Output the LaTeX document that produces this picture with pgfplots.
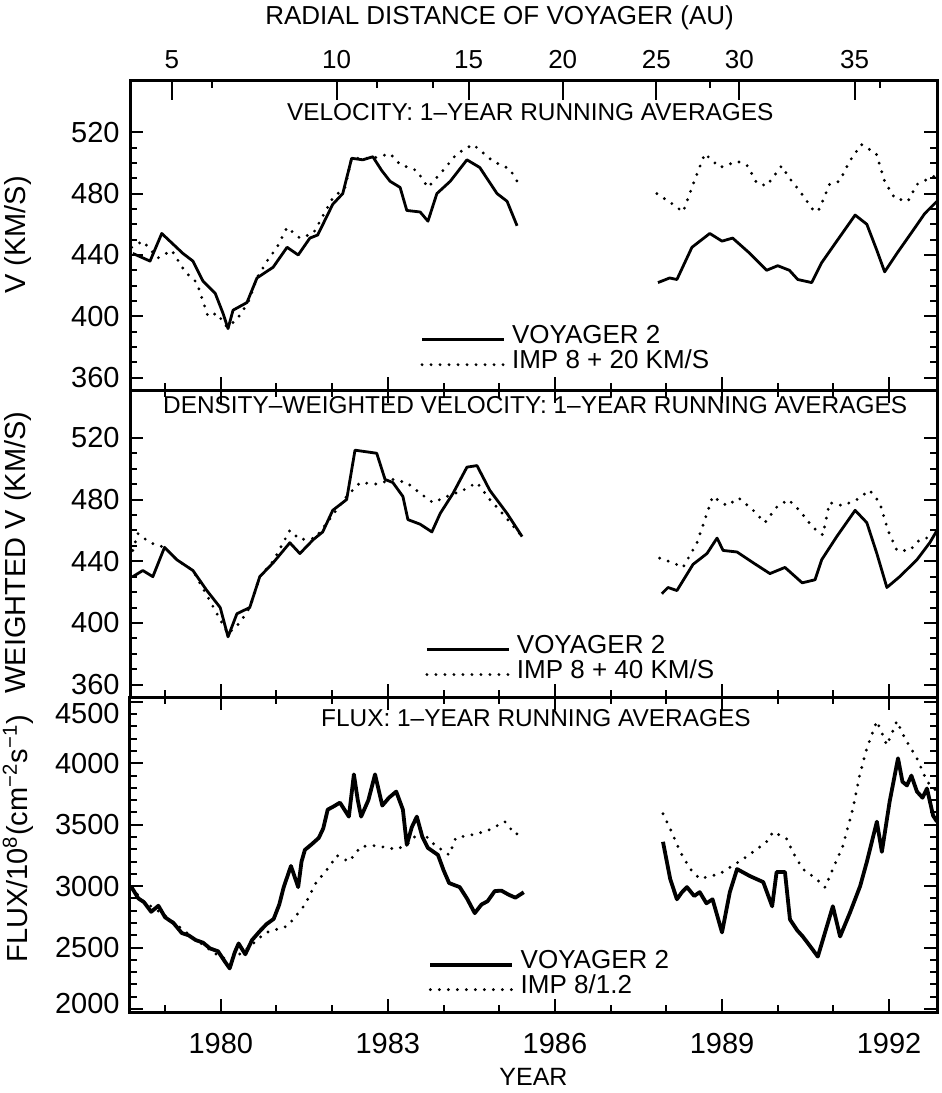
\documentclass[border=0pt]{standalone}
\usepackage{fontspec}
\setmainfont{Liberation Sans}
\usepackage{pgfplots}
\pgfplotsset{compat=1.18}

\tikzset{ptitle/.style={font=\fontsize{12.2}{12}\selectfont}}
\pgfplotsset{
  panel/.style={
    scale only axis, width=403.5pt,
    xmin=1978.37, xmax=1992.86,
    axis line style={line width=1.5pt},
    tick align=inside,
    xtick={1980,1983,1986,1989,1992},
    minor xtick={1979,1981,1982,1984,1985,1987,1988,1990,1991},
    major tick length=6.5pt, minor tick length=3.5pt,
    every tick/.style={black, line width=1pt},
    ticklabel style={font=\fontsize{14.5}{15}\selectfont},
    yticklabel style={xshift=-1.7pt},
    /pgf/number format/assume math mode=true,
    /pgf/number format/1000 sep={},
    unbounded coords=jump,
    legend cell align=left,
    legend style={draw=none, fill=none, font=\fontsize{13}{13}\selectfont, column sep=2pt,
      nodes={inner sep=1.2pt, text height=9.4pt, text depth=0.6pt}, anchor=north west},
    legend image code/.code={\draw[##1] (0pt,-2.5pt) -- (41pt,-2.5pt);},
    ylabel style={font=\fontsize{14.5}{15}\selectfont, anchor=center},
  },
  voy/.style={black, line width=1.4pt, line join=round},
  voythick/.style={black, line width=1.9pt, line join=round},
  imp/.style={black, line width=1.6pt, line cap=round, dash pattern=on 0pt off 4.5pt},
}

\begin{document}
\begin{tikzpicture}
\useasboundingbox (0pt,0pt) rectangle (471pt,-546.5pt);

% ---------------- Panel 1 ----------------
\begin{axis}[panel, height=155pt, at={(65pt,-40pt)}, anchor=north west,
  ymin=352, ymax=554, ytick={360,400,440,480,520}, minor y tick num=3,
  xtick pos=bottom, xticklabels={},
  ylabel={V (KM/S)}, ylabel style={at={(axis description cs:-0.1388,0.5)}},
  legend style={at={(rel axis cs:0.352,0.232)}}]
\addplot[voy] coordinates {
(1978.42,441) (1978.73,436) (1978.94,454) (1979.32,441) (1979.50,436) (1979.68,423)
(1979.90,415) (1980.04,402) (1980.13,392) (1980.22,404) (1980.47,409) (1980.65,425)
(1980.94,432) (1981.19,445) (1981.39,440) (1981.60,451) (1981.74,453) (1982.01,473)
(1982.19,480) (1982.35,503) (1982.55,502) (1982.73,504) (1982.89,495) (1983.04,488)
(1983.22,484) (1983.34,469) (1983.58,468) (1983.72,462) (1983.88,480) (1984.12,488)
(1984.42,502) (1984.65,497) (1984.96,480) (1985.14,475) (1985.32,459)
(1986.5,nan)
(1987.85,422) (1988.06,425) (1988.19,424) (1988.46,445) (1988.78,454) (1989.00,449)
(1989.19,451) (1989.50,441) (1989.80,430) (1990.00,433) (1990.21,430) (1990.36,424)
(1990.61,422) (1990.79,435) (1991.06,449) (1991.39,466) (1991.60,460) (1991.78,443)
(1991.92,429) (1992.14,441) (1992.43,456) (1992.64,467) (1992.86,475)
};
\addlegendentry{VOYAGER 2}
\addplot[imp] coordinates {
(1978.40,445) (1978.60,449) (1978.87,438) (1979.12,443) (1979.36,429) (1979.57,422)
(1979.77,400) (1979.93,402) (1980.11,393) (1980.29,398) (1980.49,409) (1980.65,425)
(1980.83,436) (1981.01,445) (1981.19,458) (1981.42,451) (1981.66,454) (1982.01,477)
(1982.23,484) (1982.35,503) (1982.73,503) (1983.04,506) (1983.22,499) (1983.52,495)
(1983.72,484) (1983.99,495) (1984.24,506) (1984.53,512) (1984.89,501) (1985.19,496)
(1985.32,488)
(1986.5,nan)
(1987.83,480) (1988.12,473) (1988.30,468) (1988.46,484) (1988.69,506) (1988.96,497)
(1989.28,501) (1989.46,498) (1989.62,487) (1989.80,485) (1990.07,498) (1990.21,490)
(1990.39,482) (1990.66,468) (1990.75,470) (1990.93,486) (1991.11,488) (1991.29,501)
(1991.50,512) (1991.77,506) (1991.92,488) (1992.10,477) (1992.34,475) (1992.50,486)
(1992.73,490) (1992.86,492)
};
\addlegendentry{IMP 8 + 20 KM/S}
\node[ptitle] at (rel axis cs:0.496,0.897) {VELOCITY: 1--YEAR RUNNING AVERAGES};
\end{axis}

% top AU axis
\begin{axis}[scale only axis, width=403.5pt, height=155pt, at={(65pt,-40pt)}, anchor=north west,
  xmin=1978.37, xmax=1992.86, ymin=0, ymax=1,
  axis x line*=top, axis y line=none,
  axis line style={line width=1.5pt},
  tick align=inside, major tick length=10pt, minor tick length=4pt,
  every tick/.style={black, line width=1pt},
  xtick={1979.12,1982.08,1984.45,1986.14,1987.82,1989.31,1991.38},
  xticklabels={5,10,15,20,25,30,35},
  minor xtick={1979.84,1982.80,1983.81,1988.78,1991.83},
  xticklabel style={font=\fontsize{13}{13}\selectfont, yshift=2pt},
  xlabel={RADIAL DISTANCE OF VOYAGER (AU)},
  xlabel style={font=\fontsize{13}{13}\selectfont, at={(axis description cs:0.458,1.2)}, anchor=center}]
\end{axis}

% ---------------- Panel 2 ----------------
\begin{axis}[panel, height=153.5pt, at={(65pt,-195pt)}, anchor=north west,
  ymin=352, ymax=551, ytick={360,400,440,480,520}, minor y tick num=3,
  xticklabels={},
  ylabel={WEIGHTED V (KM/S)}, ylabel style={at={(axis description cs:-0.1388,0.47)}},
  legend style={at={(rel axis cs:0.358,0.225)}}]
\addplot[voy] coordinates {
(1978.42,430) (1978.60,434) (1978.78,430) (1978.99,449) (1979.21,441) (1979.50,434)
(1979.75,421) (1979.99,410) (1980.13,391) (1980.29,406) (1980.52,410) (1980.70,430)
(1980.94,439) (1981.24,452) (1981.42,445) (1981.66,454) (1981.83,459) (1982.01,473)
(1982.26,480) (1982.41,512) (1982.80,510) (1982.95,493) (1983.09,491) (1983.27,482)
(1983.36,467) (1983.58,464) (1983.79,459) (1983.94,471) (1984.17,484) (1984.42,501)
(1984.60,502) (1984.83,486) (1985.14,471) (1985.41,456)
(1986.5,nan)
(1987.92,419) (1988.03,423) (1988.19,421) (1988.48,438) (1988.73,445) (1988.91,455)
(1989.02,447) (1989.27,446) (1989.56,439) (1989.86,432) (1990.13,436) (1990.44,426)
(1990.67,428) (1990.79,441) (1991.06,456) (1991.39,473) (1991.60,465) (1991.78,445)
(1991.96,423) (1992.19,430) (1992.50,441) (1992.73,452) (1992.86,460)
};
\addlegendentry{VOYAGER 2}
\addplot[imp] coordinates {
(1978.42,447) (1978.51,458) (1978.73,452) (1978.99,449) (1979.21,441) (1979.50,434)
(1979.81,414) (1980.13,393) (1980.34,400) (1980.52,410) (1980.70,430) (1980.94,440)
(1981.24,460) (1981.42,454) (1981.70,455) (1982.01,470) (1982.26,482) (1982.50,491)
(1982.80,490) (1983.09,493) (1983.34,491) (1983.58,484) (1983.81,478) (1984.06,482)
(1984.35,486) (1984.60,491) (1984.83,480) (1985.01,473) (1985.41,456)
(1986.5,nan)
(1987.88,442) (1988.12,439) (1988.30,436) (1988.55,452) (1988.73,471) (1988.83,482)
(1989.09,476) (1989.30,481) (1989.56,473) (1989.77,465) (1989.98,475) (1990.19,480)
(1990.39,473) (1990.63,462) (1990.81,457) (1990.93,478) (1991.17,476) (1991.42,480)
(1991.65,486) (1991.83,478) (1991.98,460) (1992.14,447) (1992.37,447) (1992.55,454)
(1992.78,456)
};
\addlegendentry{IMP 8 + 40 KM/S}
\node[ptitle] at (rel axis cs:0.502,0.951) {DENSITY--WEIGHTED VELOCITY: 1--YEAR RUNNING AVERAGES};
\end{axis}

% ---------------- Panel 3 ----------------
\begin{axis}[panel, height=157.5pt, at={(65pt,-348.5pt)}, anchor=north west,
  ymin=1975, ymax=4540, ytick={2000,2500,3000,3500,4000,4500}, minor y tick num=4,
  yticklabels={\raisebox{2.5pt}[\height][\depth]{2000},2500,3000,3500,4000,\raisebox{-6pt}[\height][\depth]{4500}},
  xticklabels={1980,1983,1986,1989,1992},
  xticklabel style={yshift=-7pt},
  xlabel={YEAR},
  xlabel style={font=\fontsize{12.5}{13}\selectfont, at={(axis description cs:0.5,-0.206)}, anchor=center},
  ylabel={FLUX/10\textsuperscript{8}(cm\textsuperscript{−2}s\textsuperscript{−1})},
  ylabel style={at={(axis description cs:-0.1388,0.55)}},
  legend style={at={(rel axis cs:0.362,0.219)}}]
\addplot[voythick] coordinates {
(1978.40,2990) (1978.52,2900) (1978.62,2870) (1978.75,2791) (1978.88,2840) (1979.00,2746)
(1979.15,2700) (1979.30,2618) (1979.42,2600) (1979.55,2561) (1979.68,2540) (1979.81,2492)
(1979.95,2470) (1980.07,2388) (1980.16,2330) (1980.25,2460) (1980.32,2533) (1980.44,2445)
(1980.56,2560) (1980.70,2633) (1980.82,2690) (1980.95,2733) (1981.05,2850) (1981.13,2992)
(1981.26,3164) (1981.39,2992) (1981.45,3200) (1981.51,3295) (1981.63,3340) (1981.76,3393)
(1981.84,3470) (1981.92,3623) (1982.03,3650) (1982.14,3680) (1982.30,3566) (1982.39,3910)
(1982.46,3700) (1982.52,3566) (1982.65,3700) (1982.77,3910) (1982.90,3656) (1983.02,3720)
(1983.15,3770) (1983.27,3623) (1983.34,3336) (1983.43,3480) (1983.52,3566) (1983.62,3400)
(1983.72,3311) (1983.90,3254) (1984.00,3130) (1984.10,3025) (1984.29,2992) (1984.42,2900)
(1984.56,2780) (1984.68,2850) (1984.79,2877) (1984.92,2960) (1985.04,2963) (1985.17,2930)
(1985.29,2906) (1985.44,2950)
(1986.5,nan)
(1987.94,3361) (1988.07,3057) (1988.19,2893) (1988.28,2950) (1988.37,2992) (1988.50,2920)
(1988.60,2951) (1988.72,2860) (1988.83,2893) (1989.00,2623) (1989.14,2951) (1989.27,3139)
(1989.50,3082) (1989.74,3033) (1989.90,2836) (1989.98,3115) (1990.13,3115) (1990.22,2729)
(1990.35,2640) (1990.45,2590) (1990.60,2500) (1990.72,2426) (1990.85,2623) (1990.99,2836)
(1991.12,2590) (1991.30,2787) (1991.48,3000) (1991.60,3197) (1991.78,3525) (1991.87,3279)
(1992.01,3689) (1992.16,4041) (1992.24,3850) (1992.32,3820) (1992.40,3900) (1992.50,3770)
(1992.60,3720) (1992.68,3795) (1992.79,3574) (1992.86,3525)
};
\addlegendentry{VOYAGER 2}
\addplot[imp] coordinates {
(1978.40,2990) (1978.60,2880) (1979.00,2760) (1979.50,2580) (1980.00,2420) (1980.20,2400)
(1980.50,2500) (1980.80,2620) (1981.20,2675) (1981.51,2848) (1981.70,3020) (1981.96,3164)
(1982.08,3250) (1982.30,3200) (1982.52,3323) (1982.77,3330) (1983.15,3300) (1983.34,3336)
(1983.59,3451) (1983.84,3336) (1984.10,3254) (1984.22,3393) (1984.53,3420) (1984.79,3451)
(1985.10,3525) (1985.29,3420) (1985.44,3450)
(1986.5,nan)
(1987.94,3590) (1988.07,3467) (1988.25,3279) (1988.43,3139) (1988.60,3060) (1988.96,3100)
(1989.38,3221) (1989.56,3279) (1989.80,3361) (1989.92,3443) (1990.16,3385) (1990.27,3279)
(1990.45,3139) (1990.70,3057) (1990.85,2990) (1991.00,3150) (1991.17,3328) (1991.35,3631)
(1991.47,3902) (1991.60,4123) (1991.78,4344) (1991.96,4148) (1992.14,4344) (1992.28,4205)
(1992.50,4041) (1992.68,3852) (1992.86,3770)
};
\addlegendentry{IMP 8/1.2}
\node[ptitle] at (rel axis cs:0.503,0.933) {FLUX: 1--YEAR RUNNING AVERAGES};
\end{axis}
\end{tikzpicture}
\end{document}
